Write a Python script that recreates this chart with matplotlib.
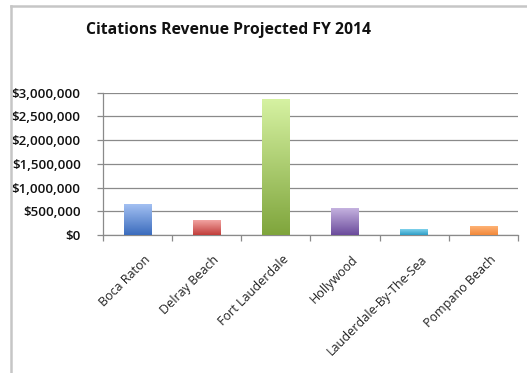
import numpy as np
import matplotlib
matplotlib.use("Agg")
import matplotlib.pyplot as plt
import matplotlib.transforms as mtransforms
from matplotlib.colors import LinearSegmentedColormap
from matplotlib.ticker import FuncFormatter, MultipleLocator, FixedLocator

# Projected citations revenue by city
cities = ["Boca Raton", "Delray Beach", "Fort Lauderdale", "Hollywood",
          "Lauderdale-By-The-Sea", "Pompano Beach"]
revenue = [647000, 316000, 2860000, 576000, 120000, 196000]

# light (top) and dark (bottom) shade of each bar's gradient
top_colors = ["#a3c0f2", "#f2a4a2", "#d6f2a2", "#c8b6e2", "#7fd2ec", "#ffb77c"]
bottom_colors = ["#3b6cbd", "#c13d3a", "#7fa53c", "#6b4b9c", "#2e9dc6", "#f2883a"]

fig = plt.figure(figsize=(5.27, 3.73), dpi=100)
fig.patch.set_facecolor("white")

# chart frame lines along the top and left
fig.add_artist(plt.Line2D([10.5 / 527, 1.0], [1 - 5.5 / 373] * 2,
                          transform=fig.transFigure, color="#c6c6c6", lw=1.8))
fig.add_artist(plt.Line2D([10.5 / 527] * 2, [0.0, 1 - 5.5 / 373],
                          transform=fig.transFigure, color="#c6c6c6", lw=1.8))

ax = fig.add_axes([103 / 527, (373 - 235) / 373, 415 / 527, 142.3 / 373])
x = np.arange(len(cities))
bars = ax.bar(x, revenue, width=0.4, color="none", zorder=3)

for bar, c_top, c_bot in zip(bars, top_colors, bottom_colors):
    cmap = LinearSegmentedColormap.from_list("g", [c_bot, c_top])
    grad = np.linspace(0, 1, 256).reshape(-1, 1)
    bx, by = bar.get_x(), bar.get_y()
    w, h = bar.get_width(), bar.get_height()
    im = ax.imshow(grad, cmap=cmap, aspect="auto", origin="lower",
                   extent=[bx, bx + w, by, by + h], zorder=3)
    im.set_clip_path(bar)

ax.set_xlim(-0.5, len(cities) - 0.5)
ax.set_ylim(0, 3000000)
ax.yaxis.set_major_locator(MultipleLocator(500000))
ax.yaxis.set_major_formatter(FuncFormatter(lambda v, p: "${:,.0f}".format(v)))
ax.grid(axis="y", color="#8a8a8a", lw=0.9, zorder=0)
ax.set_axisbelow(True)

for side in ["top", "right"]:
    ax.spines[side].set_visible(False)
ax.spines["left"].set_color("#8a8a8a")
ax.spines["bottom"].set_color("#8a8a8a")
ax.spines["left"].set_linewidth(0.9)
ax.spines["bottom"].set_linewidth(0.9)

ax.set_xticks(x)
ax.set_xticklabels(cities, rotation=45, ha="right", va="top",
                   rotation_mode="anchor", fontsize=9, family="Open Sans",
                   color="#222222")
ax.tick_params(axis="x", which="major", length=0, pad=13)
shift = mtransforms.ScaledTranslation(6 / 100, 0, fig.dpi_scale_trans)
for lab in ax.get_xticklabels():
    lab.set_transform(lab.get_transform() + shift)
ax.xaxis.set_minor_locator(FixedLocator(np.arange(-0.5, len(cities), 1.0)))
ax.tick_params(axis="x", which="minor", length=4, color="#8a8a8a", width=0.9)
ax.tick_params(axis="y", length=4, color="#8a8a8a", width=0.9, pad=12,
               labelsize=9.6)
for lab in ax.get_yticklabels():
    lab.set_family("Open Sans")
    lab.set_fontweight("semibold")
    lab.set_color("#111111")

fig.text(228 / 527, 1 - 30 / 373, "Citations Revenue Projected FY 2014",
         ha="center", va="center", fontsize=11.3, fontweight="bold",
         family="Open Sans", color="#111111")

fig.savefig("out.png", dpi=100, facecolor="white")
